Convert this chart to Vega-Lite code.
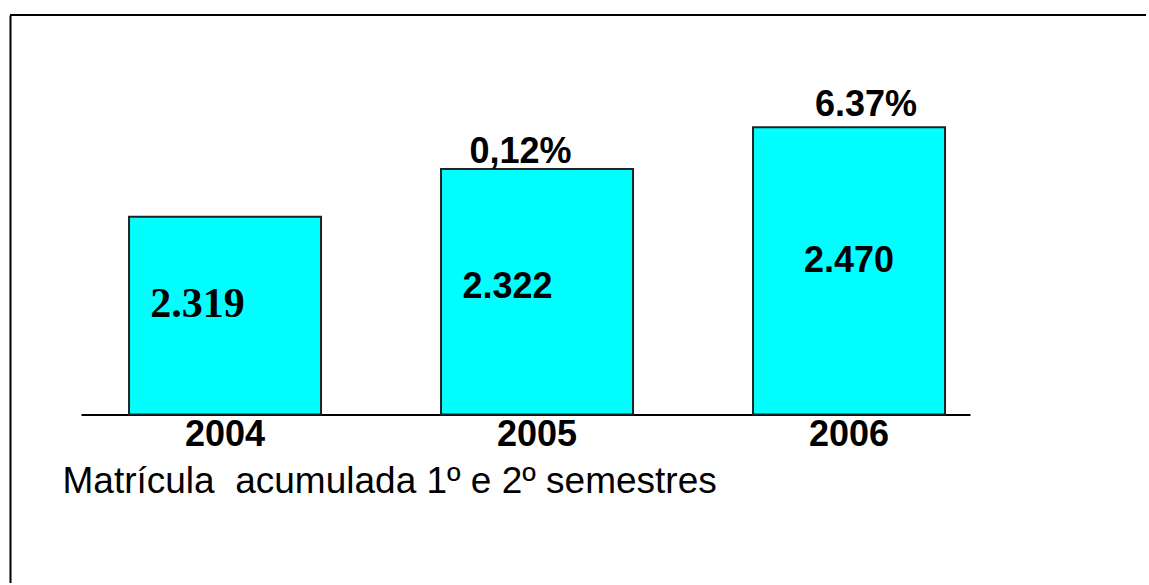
{
  "$schema": "https://vega.github.io/schema/vega-lite/v6.json",
  "autosize": "none",
  "width": 1136,
  "height": 568,
  "padding": {"left": 10, "top": 15, "right": 0, "bottom": 0},
  "background": "white",
  "config": {"view": {"stroke": null}},
  "data": {"values": [
    {"year": "2004", "students": 2319, "label": "2.319", "change": ""},
    {"year": "2005", "students": 2322, "label": "2.322", "change": "0,12%"},
    {"year": "2006", "students": 2470, "label": "2.470", "change": "6.37%"}
  ]},
  "layer": [
    {
      "mark": {"type": "rule", "color": "black", "strokeWidth": 2},
      "encoding": {"y": {"datum": 2700, "type": "quantitative"}}
    },
    {
      "encoding": {
        "x": {
          "field": "year",
          "type": "nominal",
          "sort": null,
          "scale": {"range": [71, 960], "paddingInner": 0.3846, "paddingOuter": 0.117, "align": 0.658},
          "axis": {
            "title": "Matrícula\u00a0 acumulada 1º e 2º semestres",
            "titleFont": "Liberation Sans",
            "titleFontSize": 37,
            "titleFontWeight": "normal",
            "titleColor": "black",
            "titleAlign": "left",
            "titleBaseline": "alphabetic",
            "titleAnchor": "start",
            "titleX": 52,
            "titleY": 78,
            "offset": -168.5,
            "domain": true,
            "domainColor": "black",
            "domainWidth": 2,
            "ticks": false,
            "grid": false,
            "labelAngle": 0,
            "labelFont": "Liberation Sans",
            "labelFontWeight": "bold",
            "labelFontSize": 36,
            "labelColor": "black",
            "labelPadding": 3,
            "encode": {"labels": {"update": {"dx": {"signal": "datum.value == '2005' ? -17 : datum.value == '2006' ? -6 : 1"}}}}
          }
        },
        "y": {
          "field": "students",
          "type": "quantitative",
          "scale": {"domain": [1500, 2000, 2319, 2322, 2470, 2700], "range": [575, 399.5, 201.7, 154, 112.3, 0], "zero": false, "nice": false},
          "axis": {"labels": false, "ticks": false, "grid": false, "title": null, "domain": true, "domainColor": "black", "domainWidth": 2}
        }
      },
      "layer": [
        {
          "mark": {"type": "bar", "fill": "#00FFFF", "stroke": "#222222", "strokeWidth": 2},
          "encoding": {"y2": {"datum": 2000}}
        },
        {
          "transform": [{"filter": "datum.year == '2004'"}],
          "mark": {"type": "text", "font": "Liberation Serif", "fontWeight": "bold", "fontSize": 42, "color": "black", "baseline": "alphabetic", "align": "center", "dx": -27.5, "dy": 100.6},
          "encoding": {"text": {"field": "label"}}
        },
        {
          "transform": [{"filter": "datum.year == '2005'"}],
          "mark": {"type": "text", "font": "Liberation Sans", "fontWeight": "bold", "fontSize": 36, "color": "black", "baseline": "alphabetic", "align": "center", "dx": -29.5, "dy": 128.7},
          "encoding": {"text": {"field": "label"}}
        },
        {
          "transform": [{"filter": "datum.year == '2006'"}],
          "mark": {"type": "text", "font": "Liberation Sans", "fontWeight": "bold", "fontSize": 36, "color": "black", "baseline": "alphabetic", "align": "center", "dx": 0, "dy": 144.4},
          "encoding": {"text": {"field": "label"}}
        },
        {
          "transform": [{"filter": "datum.year == '2005'"}],
          "mark": {"type": "text", "font": "Liberation Sans", "fontWeight": "bold", "fontSize": 36, "color": "black", "baseline": "alphabetic", "align": "center", "dx": -16.5, "dy": -6.3},
          "encoding": {"text": {"field": "change"}}
        },
        {
          "transform": [{"filter": "datum.year == '2006'"}],
          "mark": {"type": "text", "font": "Liberation Sans", "fontWeight": "bold", "fontSize": 36, "color": "black", "baseline": "alphabetic", "align": "center", "dx": 17, "dy": -11.3},
          "encoding": {"text": {"field": "change"}}
        }
      ]
    }
  ]
}
